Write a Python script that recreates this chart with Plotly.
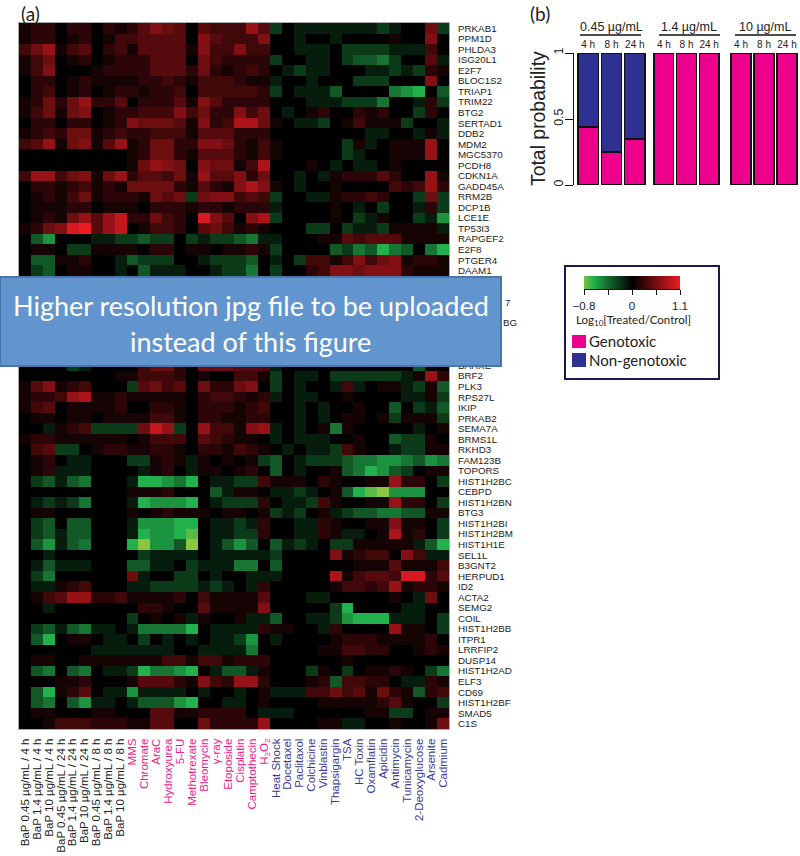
import plotly.graph_objects as go

W, H = 800, 856
SANS = "Liberation Sans, Arial, sans-serif"
HUMANIST = "Lato, Open Sans, sans-serif"
PINK = "#EC008C"
NAVY = "#2E3192"

bap_labels = [
    "BaP 0.45 µg/mL / 4 h", "BaP 1.4 µg/mL / 4 h", "BaP 10 µg/mL / 4 h",
    "BaP 0.45 µg/mL / 24 h", "BaP 1.4 µg/mL / 24 h", "BaP 10 µg/mL / 24 h",
    "BaP 0.45 µg/mL / 8 h", "BaP 1.4 µg/mL / 8 h", "BaP 10 µg/mL / 8 h",
]
genotoxic_labels = [
    "MMS", "Chromate", "AraC", "Hydroxyurea", "5-FU", "Methotrexate", "Bleomycin",
    "γ-ray", "Etoposide", "Cisplatin", "Camptothecin", "H<sub>2</sub>O<sub>2</sub>",
]
non_genotoxic_labels = [
    "Heat Shock", "Docetaxel", "Paclitaxol", "Colchicine", "Vinblastin", "Thapsigargin",
    "TSA", "HC Toxin", "Oxamflatin", "Apicidin", "Antimycin", "Tunicamycin",
    "2-Deoxyglucose", "Arsenite", "Cadmium",
]

# rows 24-31 sit behind the banner, their names can't be read
upper_genes = [
    "PRKAB1", "PPM1D", "PHLDA3", "ISG20L1", "E2F7", "BLOC1S2", "TRIAP1", "TRIM22", "BTG2",
    "SERTAD1", "DDB2", "MDM2", "MGC5370", "PCDH8", "CDKN1A", "GADD45A", "RRM2B", "DCP1B",
    "LCE1E", "TP53I3", "RAPGEF2", "E2F8", "PTGER4", "DAAM1",
]
lower_genes = [
    "BAHXE", "BRF2", "PLK3", "RPS27L", "IKIP", "PRKAB2", "SEMA7A", "BRMS1L", "RKHD3",
    "FAM123B", "TOPORS", "HIST1H2BC", "CEBPD", "HIST1H2BN", "BTG3", "HIST1H2BI",
    "HIST1H2BM", "HIST1H1E", "SEL1L", "B3GNT2", "HERPUD1", "ID2", "ACTA2", "SEMG2",
    "COIL", "HIST1H2BB", "ITPR1", "LRRFIP2", "DUSP14", "HIST1H2AD", "ELF3", "CD69",
    "HIST1H2BF", "SMAD5", "C1S",
]

# log10 ratio x10
upper_rows = [
    [1,2,2,0,2,2,0,2,1,2,4,6,5,4,0,4,3,3, 3,7,4,-2,0,-1,-1,-1,-1,-1,-1,-1,-2,-1,0,0,5,-2],
    [1,2,2,0,1,2,0,1,3,3,4,4,4,4,0,6,4,3, 3,3,6,0,0,-1,0,0,-1,0,0,0,0,1,0,0,6,0],
    [3,5,7,1,3,4,0,2,3,1,4,4,4,4,1,6,3,3, 6,3,3,0,0,-1,-1,-1,0,-2,-2,-2,-2,-1,-1,-1,3,0],
    [1,3,5,0,1,2,0,1,2,2,2,4,4,4,0,5,3,2, 2,2,2,-2,0,0,-1,-1,0,-2,-3,-3,-4,-2,0,0,4,-1],
    [1,3,6,0,0,0,1,2,2,2,2,4,4,4,2,5,2,1, 2,3,2,0,-1,-2,-1,-1,0,0,0,-1,-1,-2,-1,-2,2,1],
    [0,2,2,0,1,2,1,1,1,1,2,2,3,2,1,3,3,3, 2,1,1,-1,0,0,-1,0,0,0,-2,-2,-2,0,0,0,6,0],
    [0,2,3,0,1,2,0,1,2,2,1,2,2,3,0,3,3,3, 3,3,2,-2,0,-1,-1,-1,-3,0,0,0,0,-4,-5,-6,0,-3],
    [1,2,5,2,5,7,2,2,4,0,2,2,2,4,1,6,4,2, 2,2,2,0,0,0,-1,-1,-1,-2,-2,-2,-4,0,0,-1,2,-2],
    [1,3,5,1,5,6,0,1,2,2,3,3,3,6,3,5,2,2, 6,3,5,0,-1,0,1,2,0,0,2,1,2,0,0,-2,2,0],
    [0,2,2,0,2,2,0,1,2,6,5,5,5,4,1,6,2,3, 8,8,5,1,0,-1,-1,-2,0,1,3,1,1,1,-2,0,0,-1],
    [1,2,3,2,5,5,1,2,3,2,2,3,3,3,1,4,4,4, 2,2,2,0,0,0,0,0,0,0,0,-1,-1,0,0,-1,1,-1],
    [3,4,7,1,5,6,1,4,7,1,2,5,5,2,2,6,6,5, 2,1,3,1,0,0,0,0,0,-2,1,-1,0,1,1,1,7,0],
    [0,0,0,0,0,0,0,0,0,1,2,5,5,2,1,4,4,4, 2,1,3,1,0,0,0,0,0,-2,-1,0,0,1,1,1,7,0],
    [0,0,0,0,0,0,0,0,0,1,5,7,6,5,0,6,5,5, 1,3,8,0,0,0,1,0,-1,0,-1,-1,0,1,0,0,0,0],
    [3,7,7,3,5,6,1,5,7,2,4,4,3,5,1,7,4,4, 6,2,5,0,0,-1,0,-1,1,2,2,2,4,2,0,0,7,1],
    [0,2,2,1,2,3,1,2,1,5,5,5,5,2,1,4,2,1, 6,8,6,1,0,-1,0,0,1,0,0,0,0,3,2,3,7,2],
    [0,1,2,1,3,5,1,2,2,2,1,5,4,5,-2,5,6,6, 3,4,3,-2,0,0,-1,-1,1,2,2,3,2,0,0,-2,5,-2],
    [0,1,1,1,2,2,0,1,1,1,0,2,2,2,1,2,2,1, 2,2,2,-1,0,0,0,0,1,0,-1,0,-2,0,0,-1,2,-2],
    [0,1,2,1,5,7,4,7,9,2,2,5,3,2,0,10,6,4, 0,6,8,-2,0,0,0,0,1,0,-2,-1,1,0,0,-2,-1,-5],
    [1,2,5,6,10,11,4,7,9,0,1,3,3,2,0,4,5,3, 1,2,1,0,0,0,-2,-2,0,-2,-1,-1,-2,1,1,1,1,-1],
    [0,-3,-5,0,0,0,-1,-1,-2,-2,-3,-2,-2,0,-2,-1,-2,-2, -3,-4,-1,-1,0,0,0,1,1,4,3,4,4,4,1,1,1,1],
    [0,1,1,0,-2,-2,1,1,1,1,0,2,2,0,1,1,0,1, 1,2,1,-2,0,0,0,0,-3,-2,-4,-3,-6,-4,-3,0,-4,-6],
    [0,-3,-3,1,1,2,0,0,-1,-3,-2,-2,-2,0,0,-1,-2,-2, -2,-3,0,-1,0,-2,3,3,1,3,6,3,5,6,1,2,2,1],
    [0,-2,-3,0,1,1,0,0,-1,0,-3,-1,-1,-1,0,0,-1,-2, -2,-4,0,-2,0,0,2,3,6,6,5,6,6,6,2,1,1,1],
]
hidden_rows = [[0] * 36 for _ in range(8)]
lower_rows = [
    [0,0,0,0,-2,-1,0,0,0,0,3,5,5,2,0,5,5,5, 4,4,4,-1,0,0,0,0,0,0,0,0,0,0,0,-3,0,0],
    [0,0,0,0,0,0,0,0,1,1,3,3,3,2,0,1,0,0, 3,3,1,-2,0,-1,-1,0,-2,-2,-2,-2,-2,-2,-1,1,7,2],
    [1,4,6,1,2,3,0,0,0,-2,4,5,3,4,0,5,2,2, 5,6,0,-2,0,-1,0,0,-1,3,-1,0,1,1,-1,-2,1,-3],
    [1,2,2,3,7,8,1,1,2,1,1,1,1,1,0,2,3,3, 2,1,2,-1,0,-1,-1,0,0,1,0,0,0,0,-1,-1,1,-2],
    [1,3,4,0,1,1,1,1,2,0,0,2,2,1,0,2,2,2, 1,2,3,0,0,-1,0,-1,0,0,1,0,0,-3,0,-2,-1,-3],
    [0,1,1,0,1,1,0,1,1,1,1,3,3,1,0,2,2,1, 1,2,2,0,0,-1,0,-1,0,1,1,0,1,-2,1,1,1,-2],
    [0,0,-1,1,2,3,-2,-2,-2,-2,5,9,7,-2,0,7,3,3, 1,6,7,-1,0,-1,0,1,-4,1,0,0,0,0,0,-1,0,1],
    [1,2,2,1,1,1,1,1,1,0,1,3,3,3,0,4,3,2, 1,1,0,-1,0,-1,-1,-1,0,0,1,0,0,-3,-2,-2,1,0],
    [0,3,4,-2,-2,0,1,2,2,1,1,2,2,1,0,2,2,1, 3,2,1,0,-1,0,-1,-1,-2,3,1,0,0,-1,-2,-2,1,1],
    [0,1,2,0,-1,-1,0,0,0,-2,-2,1,2,1,-1,1,0,1, 0,1,-2,-3,0,-1,-2,-2,-2,-3,-4,-4,-5,-5,-4,-3,-5,-4],
    [0,1,2,-1,-1,-1,0,0,0,0,-1,1,2,0,-1,1,1,0, 1,2,0,-3,0,-1,0,0,1,-3,-4,-6,-5,-3,-2,0,1,1],
    [0,-2,-3,-1,-3,-4,0,0,0,-1,-6,-6,-5,-4,-6,0,-1,-1, -2,-2,3,1,1,1,0,2,1,0,0,1,1,7,2,2,0,-2],
    [0,0,0,0,0,0,0,0,0,1,1,1,2,0,0,0,-3,-1, 1,1,0,-1,-1,-2,-1,0,1,-3,-6,-7,-8,-5,-5,-5,0,0],
    [0,-1,-2,-1,-2,-4,0,0,0,-1,-6,-5,-5,-5,-6,0,-1,-2, -2,-2,2,0,-1,-1,-2,3,1,0,0,1,1,7,2,2,0,-2],
    [0,1,1,0,0,0,0,0,0,1,0,1,2,1,1,1,0,1, 1,0,1,-2,-1,-2,0,1,-1,-2,-3,-3,-4,-4,-3,-3,1,1],
    [0,-2,-3,0,-3,-3,0,0,0,-1,-5,-5,-5,-6,-6,0,-1,-1, -2,-1,2,0,0,-1,-1,2,1,0,0,1,1,6,1,1,0,-2],
    [0,-2,-3,-1,-3,-3,0,0,0,-1,-6,-5,-5,-6,-7,0,-1,-1, -2,-2,2,0,0,-1,-1,2,1,-1,-1,0,1,8,1,2,0,-2],
    [0,-3,-5,-1,-3,-4,0,0,0,-6,-8,-5,-5,-3,-8,0,-1,-3, -5,-3,0,-3,-1,-2,-1,0,-2,-2,1,1,1,1,1,-1,-3,-6],
    [0,0,-1,0,0,0,0,0,0,0,-2,-1,-1,-1,-1,0,-1,-1, -1,-1,-1,-2,0,0,0,0,6,1,2,3,3,0,6,3,-1,-1],
    [0,-1,-3,-1,-1,-1,0,0,0,-3,-3,-1,-1,0,-2,-1,-1,-1, -4,-4,0,-3,0,0,0,0,0,0,1,1,1,4,1,1,1,3],
    [0,-2,-4,0,0,0,0,0,0,5,-1,0,0,-2,-2,0,-1,0, 0,-1,-1,-1,0,0,0,0,8,1,3,4,4,3,10,10,2,4],
    [0,-1,-1,1,2,3,0,0,0,-1,-1,-2,-2,-2,-2,-1,-2,-1, 0,-1,2,0,0,0,0,0,1,3,3,2,3,7,1,2,2,1],
    [0,1,3,4,7,7,2,2,3,1,1,1,1,2,0,3,1,1, 1,1,4,0,0,0,-1,-1,0,0,0,0,0,1,0,-1,5,0],
    [0,0,-1,0,0,0,0,0,0,0,2,2,1,0,0,4,1,1, 1,1,6,0,0,0,0,0,-2,-6,0,0,0,0,-1,-1,0,0],
    [0,0,0,0,0,0,0,0,0,-2,0,1,0,1,-1,1,0,0, 1,-1,-1,-3,0,0,-1,-1,-2,-5,-6,-6,-6,-1,-1,-1,0,-2],
    [0,-2,-3,-1,-3,-4,-1,-1,0,-1,-4,-4,-4,-4,-6,0,-1,-1, -1,-1,2,1,1,0,0,-1,2,0,0,0,0,7,1,1,0,-2],
    [0,-3,-6,0,1,1,0,-1,-1,0,-2,0,-1,0,-1,0,-1,-1, -2,-5,0,-1,0,0,0,0,1,2,2,2,1,1,1,1,2,0],
    [0,0,0,0,0,0,-1,-1,-1,-1,-1,-1,-1,0,0,-1,-1,-1, -1,-4,0,0,0,0,0,1,1,3,3,2,2,0,0,1,2,1],
    [0,1,1,0,0,1,1,1,1,1,1,1,3,3,1,3,3,1, 2,2,2,0,0,0,0,0,0,1,0,0,0,0,0,0,0,0],
    [0,-3,-4,0,-3,-4,0,-1,-1,-2,-6,-4,-4,-5,-6,0,-1,-3, -3,-1,1,0,0,0,-2,1,0,-2,0,1,1,2,1,0,-2,-4],
    [0,0,0,1,1,2,0,0,0,1,4,4,4,2,1,6,3,2, 7,7,2,0,0,0,1,2,-3,3,3,2,2,0,-1,-1,2,1],
    [0,-3,-6,1,2,4,0,-1,-1,-5,-1,-1,-1,-1,0,-1,0,0, -1,0,1,-1,-1,-1,3,3,5,3,4,1,5,2,1,-3,2,3],
    [0,-3,-4,0,-3,-5,-1,-1,0,-1,-3,-3,-3,-5,-6,0,0,-1, -1,0,1,0,0,0,0,1,1,1,1,1,2,4,1,0,0,-2],
    [0,1,1,0,0,0,1,1,0,0,0,4,4,1,1,2,2,2, 2,0,-1,-1,-1,0,0,0,0,0,0,1,1,-2,-2,0,1,1],
    [0,0,1,3,3,3,2,2,2,1,1,4,4,0,0,5,2,2, 2,2,7,0,0,0,0,1,1,-1,-1,0,0,1,0,0,1,5],
]

time_points = ["4 h", "8 h", "24 h"]
genotoxic_045 = [0.44, 0.25, 0.35]
non_genotoxic_045 = [0.56, 0.75, 0.65]
genotoxic_14 = [1, 1, 1]
non_genotoxic_14 = [0, 0, 0]
genotoxic_10 = [1, 1, 1]
non_genotoxic_10 = [0, 0, 0]

scale_levels = [-0.75, -0.35, 0, 0.55, 1.1]
scale_labels = ["−0.8", "0", "1.1"]


def px_x(x0, x1):
    return [x0 / W, x1 / W]


def px_y(y0, y1):
    return [1 - y1 / H, 1 - y0 / H]


def colored(labels, color):
    return [f'<span style="color:{color}">{t}</span>' for t in labels]


def note(text, x, y, size, font=HUMANIST, color="#222", anchor="left", **kw):
    return dict(text=text, x=x / W, y=1 - y / H, xref="paper", yref="paper", showarrow=False,
                xanchor=anchor, yanchor="middle", font=dict(size=size, family=font, color=color), **kw)


def box(x0, y0, x1, y1, **kw):
    return dict(type="rect", xref="paper", yref="paper", x0=x0 / W, x1=x1 / W,
                y0=1 - y0 / H, y1=1 - y1 / H, layer="above", **kw)


def rule(x0, x1, y):
    return dict(type="line", xref="paper", yref="paper", x0=x0 / W, x1=x1 / W,
                y0=1 - y / H, y1=1 - y / H, layer="above", line=dict(color="#111", width=1.3))


heat_colors = [
    [0.0, "#8CC63F"], [0.0526, "#57BB45"], [0.105, "#22B14C"],
    [0.421, "#000000"], [1.0, "#ED1C24"],
]
matrix = [[v / 10 for v in row] for row in upper_rows + hidden_rows + lower_rows]
column_labels = (colored(bap_labels, "#222") + colored(genotoxic_labels, "#EC1C8C")
                 + colored(non_genotoxic_labels, "#3B3A98"))
gene_rows = list(range(24)) + list(range(32, 67))

fig = go.Figure()
fig.add_trace(go.Heatmap(
    z=matrix, x=list(range(36)), y=list(range(67)),
    colorscale=heat_colors, zmin=-0.8, zmax=1.1, showscale=False,
    xaxis="x", yaxis="y",
))

groups = [
    ("x2", genotoxic_045, non_genotoxic_045),
    ("x3", genotoxic_14, non_genotoxic_14),
    ("x4", genotoxic_10, non_genotoxic_10),
]
for axis, geno, non in groups:
    for name, vals, color in (("Genotoxic", geno, PINK), ("Non-genotoxic", non, NAVY)):
        fig.add_trace(go.Bar(
            x=time_points, y=vals, name=name, xaxis=axis, yaxis="y2",
            marker=dict(color=color, line=dict(color="#111", width=1.5)), showlegend=False,
        ))

fig.add_trace(go.Heatmap(
    z=[scale_levels], x=list(range(5)), y=[0], colorscale=heat_colors, zmin=-0.8, zmax=1.1,
    zsmooth="best", showscale=False, xaxis="x5", yaxis="y3",
))

top_axis = dict(side="top", type="category", anchor="y2", showline=False, ticks="",
                showgrid=False, zeroline=False, automargin=False, ticklabelstandoff=2,
                tickfont=dict(size=10, family=SANS, color="#222"))

fig.update_layout(
    width=W, height=H, margin=dict(l=0, r=0, t=0, b=0),
    paper_bgcolor="white", plot_bgcolor="white",
    barmode="stack", bargap=0.13,
    xaxis=dict(
        domain=px_x(19, 449), range=[-0.5, 35.5], tickmode="array", automargin=False,
        tickvals=list(range(36)), ticktext=column_labels, tickangle=-90, ticks="",
        showgrid=False, zeroline=False, showline=True, mirror=True, linecolor="#aaa",
        tickfont=dict(size=11.5, family=SANS), ticklabelstandoff=4,
    ),
    yaxis=dict(
        domain=px_y(23, 729), range=[66.5, -0.5], side="right", tickmode="array", automargin=False,
        tickvals=gene_rows, ticktext=upper_genes + lower_genes, ticks="", showgrid=False,
        zeroline=False, showline=True, mirror=True, linecolor="#aaa",
        tickfont=dict(size=9.8, family=SANS, color="#222"), ticklabelstandoff=6,
    ),
    xaxis2=dict(domain=px_x(576.5, 646.5), **top_axis),
    xaxis3=dict(domain=px_x(652.5, 720.5), **top_axis),
    xaxis4=dict(domain=px_x(729.5, 798.5), **top_axis),
    yaxis2=dict(
        domain=px_y(53, 185), range=[0, 1], anchor="free", position=573 / W, automargin=False,
        tickmode="array", tickvals=[0, 0.5, 1], ticktext=["0", "0.5", "1"], tickangle=-90,
        ticks="outside", ticklen=8, tickcolor="#111", showline=True, linecolor="#111",
        showgrid=False, zeroline=False, ticklabelstandoff=-3,
        tickfont=dict(size=12.5, family=SANS, color="#222"),
    ),
    xaxis5=dict(
        domain=px_x(584, 680), range=[0, 4], anchor="y3", tickmode="array", automargin=False,
        tickvals=[0, 2, 4], ticktext=scale_labels, ticks="outside", ticklen=5, ticklabelstandoff=1,
        minor=dict(tickmode="array", tickvals=[1, 3], ticks="outside", ticklen=5, tickcolor="#111"),
        tickcolor="#111", showline=True, linecolor="#111", showgrid=False, zeroline=False,
        tickfont=dict(size=11.5, family=SANS, color="#222"),
    ),
    yaxis3=dict(domain=px_y(276, 289), anchor="x5", visible=False, automargin=False),
    shapes=[
        box(565, 266, 719, 379, line=dict(color="#1B1B4B", width=2)),
        box(572, 335, 586, 348, fillcolor=PINK, line=dict(width=0)),
        box(572, 353, 586, 367, fillcolor=NAVY, line=dict(width=0)),
        box(0, 277, 501, 366, fillcolor="#6295CD", line=dict(color="#4A76A8", width=2)),
        rule(580, 641, 35), rule(659, 720, 35), rule(735, 796, 35),
    ],
    annotations=[
        note("(a)", 19, 13, 19),
        note("(b)", 528, 13, 19),
        note("Total probability", 538, 119, 19.4, SANS, anchor="center", textangle=-90),
        note("0.45 µg/mL", 611, 27, 12.5, SANS, anchor="center"),
        note("1.4 µg/mL", 689, 27, 12.5, SANS, anchor="center"),
        note("10 µg/mL", 765, 27, 12.5, SANS, anchor="center"),
        note("Higher resolution jpg file to be uploaded", 251, 306, 27, color="white", anchor="center"),
        note("instead of this figure", 251, 341, 27, color="white", anchor="center"),
        note("7", 503, 302, 9.8, SANS),
        note("BG", 501, 323, 9.8, SANS),
        note("Log<sub>10</sub>[Treated/Control]", 633, 320, 11.5, anchor="center"),
        note("Genotoxic", 587, 341, 15),
        note("Non-genotoxic", 587, 360, 15),
    ],
)

fig.write_html("out.html", config={"displayModeBar": False},
               post_script="document.body.style.margin='0'")
